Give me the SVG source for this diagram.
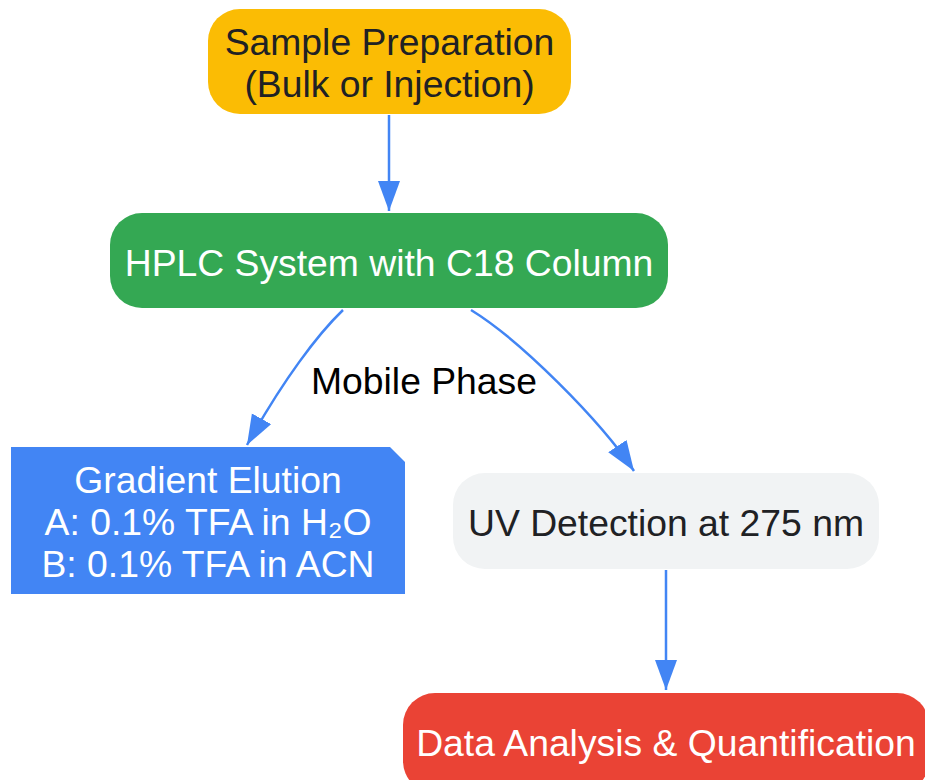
<svg xmlns="http://www.w3.org/2000/svg" width="925" height="780" viewBox="0 0 925 780">
<style>
text{font-family:"Liberation Sans",Arial,sans-serif;font-size:37.3px;text-anchor:middle}
.dark{fill:#202124}
.light{fill:#ffffff}
.edge{fill:none;stroke:#4285F4;stroke-width:2.5}
</style>
<defs>
<marker id="ah" markerUnits="userSpaceOnUse" markerWidth="32" markerHeight="24" refX="30" refY="11" orient="auto">
<path d="M0,0 L30,11 L0,22 z" fill="#4285F4"/>
</marker>
</defs>
<rect width="925" height="780" fill="#ffffff"/>
<g id="connectors">
<path class="edge" d="M389,115 L389,211" marker-end="url(#ah)"/>
<path class="edge" d="M343,310 C318,334 283,380 247,445" marker-end="url(#ah)"/>
<path class="edge" d="M471,310 C520,340 600,420 634,471" marker-end="url(#ah)"/>
<path class="edge" d="M666,570 L666,690" marker-end="url(#ah)"/>
<text x="424" y="394" fill="#000000">Mobile Phase</text>
</g>
<g id="sample">
<rect x="208" y="9" width="363" height="105" rx="32" fill="#FBBC04"/>
<text class="dark" x="389.5" y="55">Sample Preparation</text>
<text class="dark" x="389.5" y="97">(Bulk or Injection)</text>
</g>
<g id="hplc">
<rect x="110" y="213" width="558" height="95" rx="32" fill="#34A853"/>
<text class="light" x="389" y="276">HPLC System with C18 Column</text>
</g>
<g id="gradient">
<polygon points="11,447 390,447 405,462 405,594 11,594" fill="#4285F4"/>
<text class="light" x="208" y="493">Gradient Elution</text>
<text class="light" x="208" y="535">A: 0.1% TFA in H₂O</text>
<text class="light" x="208" y="577">B: 0.1% TFA in ACN</text>
</g>
<g id="uv">
<rect x="453" y="473" width="426" height="96" rx="32" fill="#F1F3F4"/>
<text class="dark" x="666" y="536">UV Detection at 275 nm</text>
</g>
<g id="data">
<rect x="403" y="693" width="526" height="100" rx="32" fill="#EA4335"/>
<text class="light" x="666" y="756">Data Analysis &amp; Quantification</text>
</g>
</svg>
